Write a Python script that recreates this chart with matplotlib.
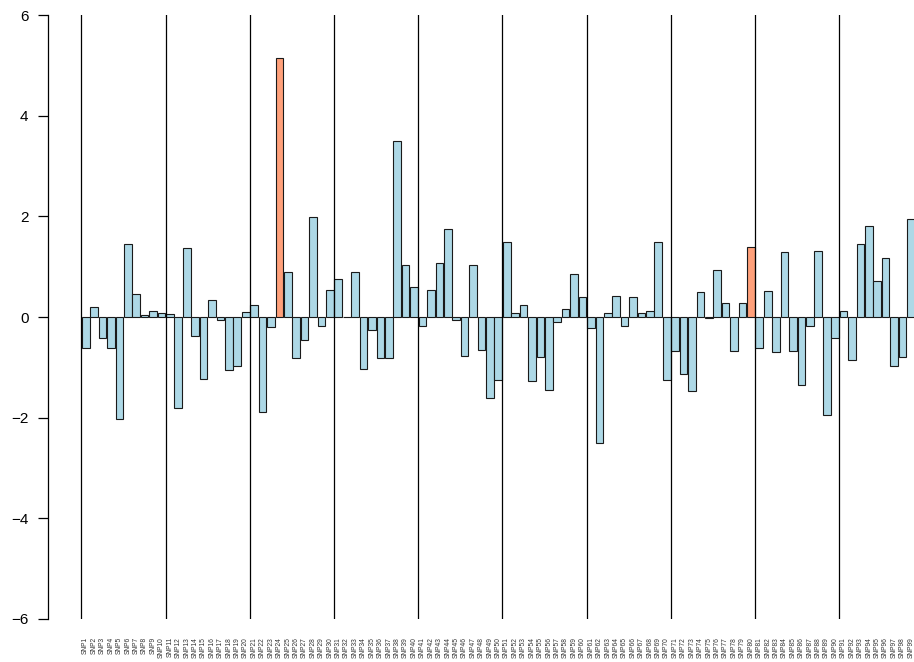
import matplotlib
matplotlib.use("Agg")
import matplotlib.pyplot as plt
import numpy as np

plt.rcParams['font.family'] = ['Liberation Sans', 'DejaVu Sans']

snp_labels = [f"SNP{i}" for i in range(1, 100)]

effects = [
    -0.61, 0.20, -0.41, -0.62, -2.03, 1.45, 0.46, 0.03, 0.11, 0.07,
    0.06, -1.81, 1.37, -0.38, -1.23, 0.34, -0.05, -1.06, -0.97, 0.09,
    0.23, -1.89, -0.19, 5.14, 0.89, -0.81, -0.46, 1.99, -0.18, 0.53,
    0.75, 0.00, 0.89, -1.03, -0.25, -0.82, -0.82, 3.49, 1.03, 0.60,
    -0.18, 0.54, 1.07, 1.74, -0.05, -0.78, 1.03, -0.66, -1.60, -1.26,
    1.50, 0.08, 0.24, -1.27, -0.80, -1.45, -0.09, 0.15, 0.85, 0.39,
    -0.21, -2.50, 0.08, 0.42, -0.17, 0.40, 0.07, 0.12, 1.50, -1.26,
    -0.68, -1.13, -1.47, 0.50, -0.01, 0.93, 0.28, -0.68, 0.28, 1.40,
    -0.62, 0.52, -0.70, 1.29, -0.67, -1.35, -0.17, 1.31, -1.94, -0.42,
    0.11, -0.85, 1.46, 1.81, 0.71, 1.17, -0.97, -0.79, 1.95,
]

highlighted = ["SNP24", "SNP80"]

base_color = "#ADD8E6"
highlight_color = "#FFA07A"

colors = [highlight_color if lab in highlighted else base_color for lab in snp_labels]

fig = plt.figure(figsize=(9.14, 6.62), dpi=100)
ax = fig.add_axes([48.3 / 914, 43 / 662, 1 - 48.3 / 914, (619 - 15) / 662])

x = np.arange(len(effects))
ax.bar(x, effects, width=1 / 1.1, color=colors, edgecolor="#1a1a1a",
       linewidth=0.8, zorder=2)

# separators every ten SNPs
for k in range(0, len(effects), 10):
    ax.axvline(k - 0.5, color="black", linewidth=0.9, zorder=3)

ax.set_xlim(-4.44, 98.37)
ax.set_ylim(-6, 6)

for side in ("top", "right", "bottom"):
    ax.spines[side].set_visible(False)
ax.spines["left"].set_linewidth(0.9)

ax.set_yticks([-6, -4, -2, 0, 2, 4, 6])
ax.tick_params(axis="y", length=7.2, width=0.9, pad=7, labelsize=11)

ax.set_xticks(x)
ax.set_xticklabels(snp_labels, rotation=90, fontsize=4.8, color="#333333",
                   va="top", ha="center")
ax.tick_params(axis="x", length=0, pad=13)

fig.savefig("out.png", dpi=100)
